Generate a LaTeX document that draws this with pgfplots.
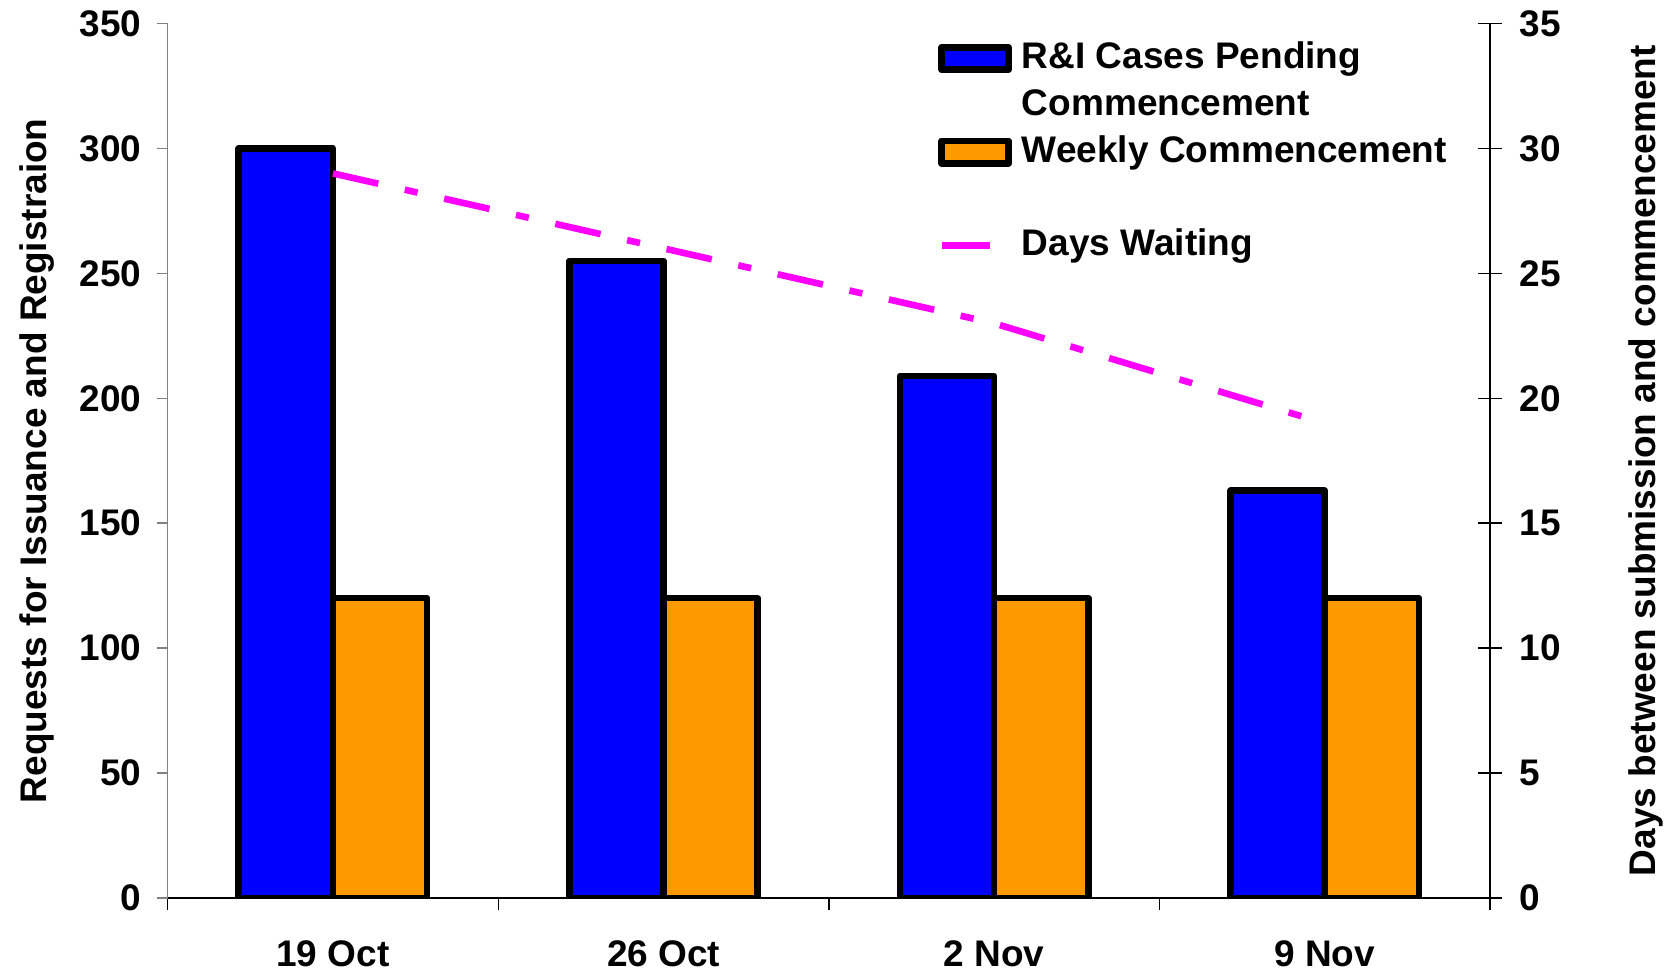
\documentclass[border=0pt]{standalone}
\usepackage{fontspec}
\setmainfont{Liberation Sans}
\usepackage{pgfplots}
\pgfplotsset{compat=1.18}
\definecolor{barblue}{HTML}{0000FF}
\definecolor{barorange}{HTML}{FF9900}
\definecolor{linemag}{HTML}{FF00FF}
\begin{document}
\begin{tikzpicture}
\path[use as bounding box] (-83.85pt,-36.5pt) rectangle (754.65pt,449pt);
\pgfplotsset{
 myaxis/.style={
  at={(0pt,0pt)}, anchor=south west, scale only axis,
  width=661.15pt, height=437.25pt,
  xmin=-0.5, xmax=3.5,
  /pgf/number format/assume math mode=true,
  tick label style={font=\bfseries\fontsize{18.5}{22}\selectfont},
  label style={font=\bfseries\fontsize{18.5}{22}\selectfont},
  every outer x axis line/.append style={-},
  every outer y axis line/.append style={-},
 }
}
\begin{axis}[myaxis,
  ymin=0, ymax=350, ytick={0,50,...,350},
  axis x line*=bottom, axis y line*=left,
  x axis line style={-, black, line width=0.75pt},
  y axis line style={-, gray, line width=0.75pt},
  xtick={0,1,2,3}, xticklabels={19 Oct,26 Oct,2 Nov,9 Nov},
  major x tick style={draw=none},
  minor xtick={-0.5,0.5,1.5,2.5,3.5},
  minor x tick style={black, line width=0.75pt},
  minor tick length=6pt,
  tick align=outside,
  major tick length=5.5pt,
  ytick style={gray, line width=0.75pt},
  xticklabel style={anchor=base, inner sep=0pt, yshift=-28.5pt},
  yticklabel style={anchor=east, inner sep=0pt, xshift=-7.5pt},
  ylabel={Requests for Issuance and Registraion},
  ylabel style={at={(axis description cs:0,0.5)}, anchor=base, yshift=60.5pt},
  legend cell align=left,
  legend style={at={(rel axis cs:0.5825,0.981)}, anchor=north west, draw=none, fill=none,
    inner sep=0pt, row sep=5.4pt, column sep=5pt,
    font=\bfseries\fontsize{18.5}{22}\selectfont,
    nodes={inner sep=0pt, text height=14pt, text depth=4pt}},
]
\addplot[ybar, bar width=0.285, bar shift=-0.1425, fill=barblue, draw=black, line width=3.3pt, line join=round,
  legend image code/.code={\draw[fill=barblue, draw=black, line width=3.3pt, line join=round] (0pt,-5.6pt) rectangle (33.5pt,5.6pt);}]
  coordinates {(0,300) (1,255) (2,209) (3,163)};
\addlegendentry{R\&I Cases Pending}
\addlegendimage{empty legend}
\addlegendentry{Commencement}
\addplot[ybar, bar width=0.285, bar shift=0.1425, fill=barorange, draw=black, line width=3.3pt, line join=round,
  legend image code/.code={\draw[fill=barorange, draw=black, line width=3.3pt, line join=round] (0pt,-5.6pt) rectangle (33.5pt,5.6pt);}]
  coordinates {(0,120) (1,120) (2,120) (3,120)};
\addlegendentry{Weekly Commencement}
\addlegendimage{empty legend}
\addlegendentry{}
\addlegendimage{legend image code/.code={\draw[linemag, line width=3.3pt] (0pt,0pt) -- (24pt,0pt);}}
\addlegendentry{Days Waiting}
\end{axis}
\begin{axis}[myaxis,
  ymin=0, ymax=35, ytick={0,5,...,35},
  axis y line*=right, axis x line=none,
  y axis line style={-, black, line width=0.75pt},
  ytick style={black, line width=0.75pt},
  tick align=center, major tick length=12pt,
  yticklabel style={anchor=west, inner sep=0pt, xshift=8.6pt},
  ylabel={Days between submission and commencement},
  ylabel style={at={(axis description cs:1,0.5)}, anchor=base, yshift=-82.5pt},
]
\addplot[linemag, line width=3.3pt, dash pattern=on 23.2pt off 13.6pt on 6.6pt off 13.6pt]
  coordinates {(0,29) (1,26) (2,23) (3,19)};
\end{axis}
\end{tikzpicture}
\end{document}
